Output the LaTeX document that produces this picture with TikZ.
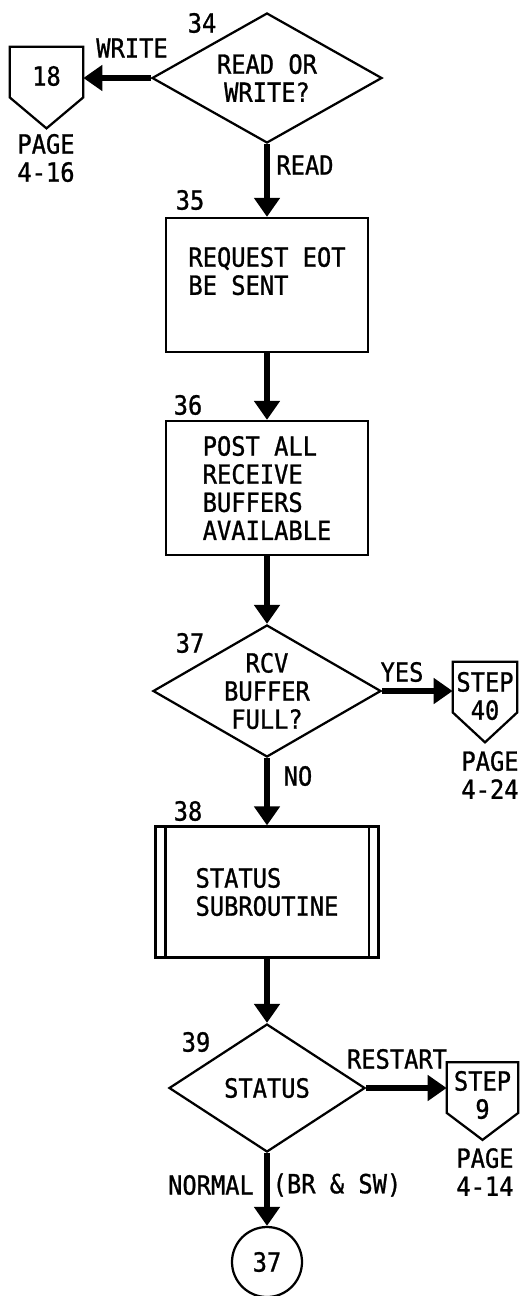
\documentclass[tikz,border=0pt]{standalone}
\usepackage{fontspec}
\setmonofont{DejaVu Sans Mono}[FakeStretch=0.9, FakeBold=1]
\usetikzlibrary{arrows.meta,shapes.geometric}

\begin{document}
\begin{tikzpicture}[
    x=0.2mm, y=-0.2mm,
    every node/.style={font=\ttfamily\fontsize{15}{16}\selectfont, inner sep=0pt},
    outline/.style={line width=0.45mm},
    decision/.style={draw, outline, diamond, align=center},
    process/.style={draw, outline, rectangle, align=left, minimum width=40.4mm, minimum height=26.8mm},
    subproc/.style={draw, outline, rectangle, align=left, minimum width=44.6mm, minimum height=26.2mm},
    offpage/.style={rectangle, align=center, minimum height=10mm},
    terminal/.style={draw, outline, circle, minimum size=14mm},
    flow/.style={line width=1.1mm, -{Triangle[length=3.8mm,width=5mm]}}
  ]
  \useasboundingbox (0,0) rectangle (526,1296);

  % main column
  \node[decision, minimum width=46mm, minimum height=26mm, aspect=1.77] (d34) at (267,78) {READ OR\\WRITE?};
  \node[process] (b35) at (267,285) {REQUEST EOT\\BE SENT\\\mbox{}};
  \node[process] (b36) at (267,488) {POST ALL\\RECEIVE\\BUFFERS\\AVAILABLE};
  \node[decision, minimum width=45.6mm, minimum height=26.4mm, aspect=1.73] (d37) at (267,691) {RCV\\BUFFER\\FULL?};
  \node[subproc] (b38) at (267,892) {STATUS\\SUBROUTINE};
  \node[decision, minimum width=39.2mm, minimum height=25.6mm, aspect=1.53] (d39) at (267,1088) {STATUS};
  \node[terminal] (c37) at (267,1262) {37};

  % off-page connectors
  \node[offpage, minimum width=14.6mm] (off18) at (46.5,76) {18};
  \node[offpage, minimum width=12.8mm] (off40) at (485,696) {STEP\\40};
  \node[offpage, minimum width=14.2mm] (off9) at (482.5,1095) {STEP\\9};
  \foreach \n/\u/\d in {off18/0.8mm/5.4mm, off40/1.8mm/4.2mm, off9/1.5mm/3.9mm}
    \draw[outline, line join=miter] ([yshift=\u]\n.north west) -- ([yshift=\u]\n.north east)
      -- ([yshift=\u]\n.south east) -- ([yshift=-\d]\n.south) -- ([yshift=\u]\n.south west) -- cycle;
  \node[align=center] (p18) at (46,158) {PAGE\\4-16};
  \node[align=center] (p40) at (490,775) {PAGE\\4-24};
  \node[align=center] (p9) at (485,1172) {PAGE\\4-14};

  \draw[outline] ([xshift=2.2mm]b38.north west) -- ([xshift=2.2mm]b38.south west);
  \draw[outline] ([xshift=-2.2mm]b38.north east) -- ([xshift=-2.2mm]b38.south east);

  % step numbers
  \node (n34) at (202,23) {34};
  \node (n35) at (190,200) {35};
  \node (n36) at (188,405) {36};
  \node (n37) at (190,643) {37};
  \node (n38) at (188,811) {38};
  \node (n39) at (196,1042) {39};

  % branch labels
  \node (lwrite) at (132,48) {WRITE};
  \node (lread) at (305,165) {READ};
  \node (lyes) at (402,672) {YES};
  \node (lno) at (298,776) {NO};
  \node (lrestart) at (397,1059) {RESTART};
  \node (lnormal) at (211,1185) {NORMAL};
  \node (lbrsw) at (337,1185) {(BR \& SW)};

  \draw[flow] (d34.west) -- (d34.west -| off18.east);
  \draw[flow] (d34.south) -- (b35.north);
  \draw[flow] (b35.south) -- (b36.north);
  \draw[flow] (b36.south) -- (d37.north);
  \draw[flow] (d37.east) -- (d37.east -| off40.west);
  \draw[flow] (d37.south) -- (b38.north);
  \draw[flow] (b38.south) -- (d39.north);
  \draw[flow] (d39.east) -- (d39.east -| off9.west);
  \draw[flow] (d39.south) -- (c37.north);
\end{tikzpicture}
\end{document}
